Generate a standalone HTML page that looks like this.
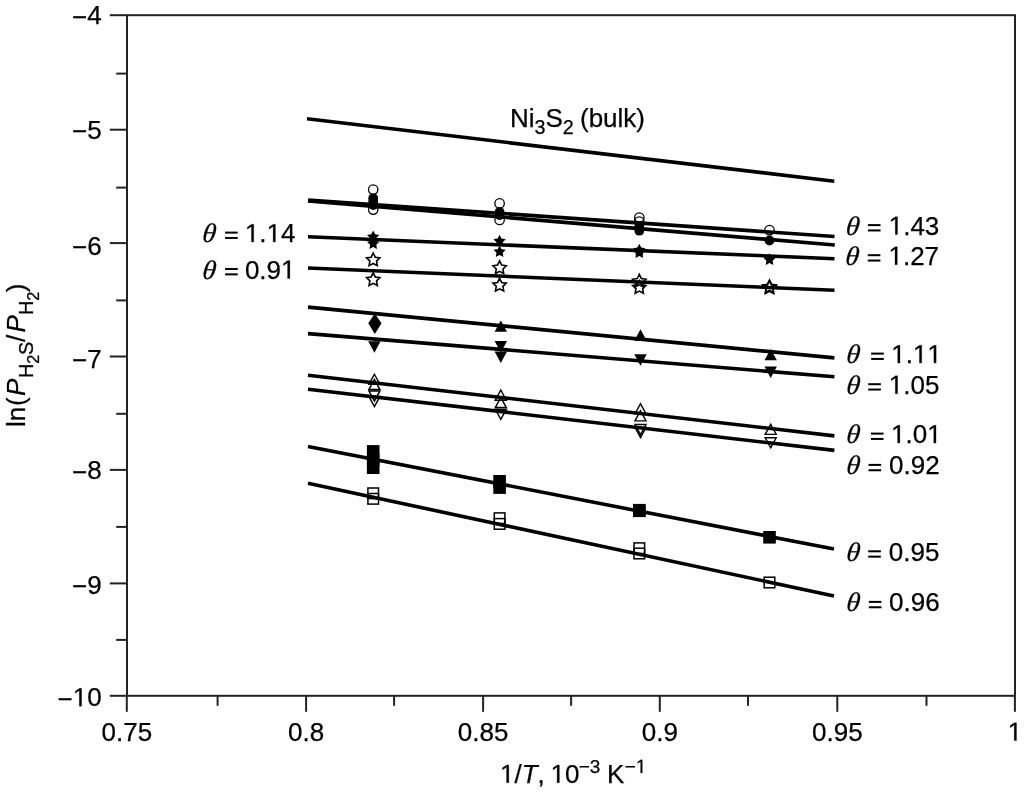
<!DOCTYPE html>
<html><head><meta charset="utf-8"><style>
html,body{margin:0;padding:0;background:#fff;}
svg{display:block;will-change:transform;}
.t{font-family:"Liberation Sans",sans-serif;font-kerning:none;font-size:26px;fill:#000;stroke:#000;stroke-width:0.25px;}
.one{fill-opacity:0;stroke-opacity:0;}
.th{font-family:"Liberation Serif",serif;font-style:italic;}
</style></head><body>
<svg width="1024" height="792" viewBox="0 0 1024 792">
<rect width="1024" height="792" fill="#fff"/>
<rect x="127.0" y="15.2" width="888.0" height="680.5999999999999" fill="none" stroke="#222" stroke-width="2"/>
<line x1="109.8" y1="15.2" x2="127.0" y2="15.2" stroke="#222" stroke-width="2"/>
<line x1="116.2" y1="73.6" x2="127.0" y2="73.6" stroke="#222" stroke-width="2"/>
<line x1="109.8" y1="129.7" x2="127.0" y2="129.7" stroke="#222" stroke-width="2"/>
<line x1="116.2" y1="187.6" x2="127.0" y2="187.6" stroke="#222" stroke-width="2"/>
<line x1="109.8" y1="243.1" x2="127.0" y2="243.1" stroke="#222" stroke-width="2"/>
<line x1="116.2" y1="300.4" x2="127.0" y2="300.4" stroke="#222" stroke-width="2"/>
<line x1="109.8" y1="356.5" x2="127.0" y2="356.5" stroke="#222" stroke-width="2"/>
<line x1="116.2" y1="413.8" x2="127.0" y2="413.8" stroke="#222" stroke-width="2"/>
<line x1="109.8" y1="469.9" x2="127.0" y2="469.9" stroke="#222" stroke-width="2"/>
<line x1="116.2" y1="526.9" x2="127.0" y2="526.9" stroke="#222" stroke-width="2"/>
<line x1="109.8" y1="583.4" x2="127.0" y2="583.4" stroke="#222" stroke-width="2"/>
<line x1="116.2" y1="639.9" x2="127.0" y2="639.9" stroke="#222" stroke-width="2"/>
<line x1="109.8" y1="695.8" x2="127.0" y2="695.8" stroke="#222" stroke-width="2"/>
<line x1="126.8" y1="695.8" x2="126.8" y2="711.8" stroke="#222" stroke-width="2"/>
<line x1="217.6" y1="695.8" x2="217.6" y2="705.8" stroke="#222" stroke-width="2"/>
<line x1="306.1" y1="695.8" x2="306.1" y2="711.8" stroke="#222" stroke-width="2"/>
<line x1="394.1" y1="695.8" x2="394.1" y2="705.8" stroke="#222" stroke-width="2"/>
<line x1="483.1" y1="695.8" x2="483.1" y2="711.8" stroke="#222" stroke-width="2"/>
<line x1="571.1" y1="695.8" x2="571.1" y2="705.8" stroke="#222" stroke-width="2"/>
<line x1="659.8" y1="695.8" x2="659.8" y2="711.8" stroke="#222" stroke-width="2"/>
<line x1="748" y1="695.8" x2="748" y2="705.8" stroke="#222" stroke-width="2"/>
<line x1="837.3" y1="695.8" x2="837.3" y2="711.8" stroke="#222" stroke-width="2"/>
<line x1="926.5" y1="695.8" x2="926.5" y2="705.8" stroke="#222" stroke-width="2"/>
<line x1="1014.9" y1="695.8" x2="1014.9" y2="711.8" stroke="#222" stroke-width="2"/>
<text x="101.7" y="24.3" text-anchor="end" class="t"><tspan dy="1.3">−</tspan><tspan dy="-1.3">4</tspan></text>
<text x="101.7" y="138.5" text-anchor="end" class="t"><tspan dy="1.3">−</tspan><tspan dy="-1.3">5</tspan></text>
<text x="101.7" y="254.6" text-anchor="end" class="t"><tspan dy="1.3">−</tspan><tspan dy="-1.3">6</tspan></text>
<text x="101.7" y="367.6" text-anchor="end" class="t"><tspan dy="1.3">−</tspan><tspan dy="-1.3">7</tspan></text>
<text x="101.7" y="479.3" text-anchor="end" class="t"><tspan dy="1.3">−</tspan><tspan dy="-1.3">8</tspan></text>
<text x="101.7" y="593.7" text-anchor="end" class="t"><tspan dy="1.3">−</tspan><tspan dy="-1.3">9</tspan></text>
<text x="101.7" y="706.2" text-anchor="end" class="t"><tspan dy="1.3">−</tspan><tspan dy="-1.3"><tspan class="one">1</tspan>0</tspan></text>
<text x="126.8" y="740.6" text-anchor="middle" class="t">0.75</text>
<text x="306.1" y="740.6" text-anchor="middle" class="t">0.8</text>
<text x="483.1" y="740.6" text-anchor="middle" class="t">0.85</text>
<text x="659.8" y="740.6" text-anchor="middle" class="t">0.9</text>
<text x="837.3" y="740.6" text-anchor="middle" class="t">0.95</text>
<text x="1014.9" y="740.6" text-anchor="middle" class="t"><tspan class="one">1</tspan></text>
<line x1="307" y1="118.75" x2="834.3" y2="181.25" stroke="#000" stroke-width="3.6"/>
<line x1="308" y1="200.1" x2="834.5" y2="236.5" stroke="#000" stroke-width="3.6"/>
<line x1="308" y1="200.9" x2="834.8" y2="245.0" stroke="#000" stroke-width="3.6"/>
<line x1="308" y1="236.8" x2="834.5" y2="258.7" stroke="#000" stroke-width="3.6"/>
<line x1="308" y1="268.0" x2="834.5" y2="290.3" stroke="#000" stroke-width="3.6"/>
<line x1="308" y1="307.1" x2="834.4" y2="357.9" stroke="#000" stroke-width="3.6"/>
<line x1="308" y1="333.6" x2="834.4" y2="376.8" stroke="#000" stroke-width="3.6"/>
<line x1="308" y1="375.2" x2="834.4" y2="435.9" stroke="#000" stroke-width="3.6"/>
<line x1="308" y1="389.2" x2="834.4" y2="450.4" stroke="#000" stroke-width="3.6"/>
<line x1="308" y1="446.5" x2="834" y2="549.1" stroke="#000" stroke-width="3.6"/>
<line x1="308" y1="483.3" x2="834" y2="596.0" stroke="#000" stroke-width="3.6"/>
<circle cx="373.2" cy="189.6" r="4.7" fill="none" stroke="#000" stroke-width="1.3"/>
<circle cx="373.2" cy="209.6" r="4.7" fill="none" stroke="#000" stroke-width="1.3"/>
<circle cx="373.2" cy="198.3" r="4.9" fill="#000"/>
<circle cx="373.2" cy="201.8" r="4.9" fill="#000"/>
<circle cx="373.2" cy="205.0" r="4.9" fill="#000"/>
<polygon points="373.20,230.45 375.11,234.32 379.38,234.94 376.29,237.95 377.02,242.21 373.20,240.20 369.38,242.21 370.11,237.95 367.02,234.94 371.29,234.32" fill="#000"/>
<polygon points="373.20,237.15 375.11,241.02 379.38,241.64 376.29,244.65 377.02,248.91 373.20,246.90 369.38,248.91 370.11,244.65 367.02,241.64 371.29,241.02" fill="#000"/>
<polygon points="373.20,253.00 375.26,257.17 379.86,257.84 376.53,261.08 377.31,265.66 373.20,263.50 369.09,265.66 369.87,261.08 366.54,257.84 371.14,257.17" fill="none" stroke="#000" stroke-width="1.6" stroke-linejoin="miter"/>
<polygon points="373.20,272.80 375.26,276.97 379.86,277.64 376.53,280.88 377.31,285.46 373.20,283.30 369.09,285.46 369.87,280.88 366.54,277.64 371.14,276.97" fill="none" stroke="#000" stroke-width="1.6" stroke-linejoin="miter"/>
<polygon points="374.8,313.6 381.5,323.3 374.8,334.0 368.3,323.3" fill="#000"/>
<polygon points="374.40,352.70 380.60,341.30 368.20,341.30" fill="#000"/>
<polygon points="374.40,373.60 380.60,385.00 368.20,385.00" fill="none" stroke="#000" stroke-width="1.6" transform="translate(374.4 379.3) scale(0.89) translate(-374.4 -379.3)"/>
<polygon points="374.40,378.80 380.60,390.20 368.20,390.20" fill="none" stroke="#000" stroke-width="1.6" transform="translate(374.4 384.5) scale(0.89) translate(-374.4 -384.5)"/>
<polygon points="374.40,401.70 380.60,390.30 368.20,390.30" fill="none" stroke="#000" stroke-width="1.6" transform="translate(374.4 396.0) scale(0.89) translate(-374.4 -396.0)"/>
<polygon points="374.40,407.20 380.60,395.80 368.20,395.80" fill="none" stroke="#000" stroke-width="1.6" transform="translate(374.4 401.5) scale(0.89) translate(-374.4 -401.5)"/>
<rect x="366.90" y="445.10" width="12.6" height="12.6" fill="#000"/>
<rect x="366.90" y="453.20" width="12.6" height="12.6" fill="#000"/>
<rect x="366.90" y="461.40" width="12.6" height="12.6" fill="#000"/>
<rect x="367.90" y="488.00" width="10.6" height="10.6" fill="none" stroke="#000" stroke-width="1.5"/>
<rect x="367.90" y="493.50" width="10.6" height="10.6" fill="none" stroke="#000" stroke-width="1.5"/>
<circle cx="499.6" cy="203.4" r="4.7" fill="none" stroke="#000" stroke-width="1.3"/>
<circle cx="499.6" cy="219.9" r="4.7" fill="none" stroke="#000" stroke-width="1.3"/>
<circle cx="499.6" cy="212.0" r="4.9" fill="#000"/>
<circle cx="499.6" cy="215.0" r="4.9" fill="#000"/>
<polygon points="499.60,234.75 501.51,238.62 505.78,239.24 502.69,242.25 503.42,246.51 499.60,244.50 495.78,246.51 496.51,242.25 493.42,239.24 497.69,238.62" fill="#000"/>
<polygon points="499.60,245.35 501.51,249.22 505.78,249.84 502.69,252.85 503.42,257.11 499.60,255.10 495.78,257.11 496.51,252.85 493.42,249.84 497.69,249.22" fill="#000"/>
<polygon points="499.60,260.90 501.66,265.07 506.26,265.74 502.93,268.98 503.71,273.56 499.60,271.40 495.49,273.56 496.27,268.98 492.94,265.74 497.54,265.07" fill="none" stroke="#000" stroke-width="1.6" stroke-linejoin="miter"/>
<polygon points="499.60,278.30 501.66,282.47 506.26,283.14 502.93,286.38 503.71,290.96 499.60,288.80 495.49,290.96 496.27,286.38 492.94,283.14 497.54,282.47" fill="none" stroke="#000" stroke-width="1.6" stroke-linejoin="miter"/>
<polygon points="500.80,320.40 507.00,331.80 494.60,331.80" fill="#000"/>
<polygon points="500.80,352.40 507.00,341.00 494.60,341.00" fill="#000"/>
<polygon points="500.80,362.90 507.00,351.50 494.60,351.50" fill="#000"/>
<polygon points="500.80,389.40 507.00,400.80 494.60,400.80" fill="none" stroke="#000" stroke-width="1.6" transform="translate(500.8 395.1) scale(0.89) translate(-500.8 -395.1)"/>
<polygon points="500.80,396.80 507.00,408.20 494.60,408.20" fill="none" stroke="#000" stroke-width="1.6" transform="translate(500.8 402.5) scale(0.89) translate(-500.8 -402.5)"/>
<polygon points="500.80,420.00 507.00,408.60 494.60,408.60" fill="none" stroke="#000" stroke-width="1.6" transform="translate(500.8 414.3) scale(0.89) translate(-500.8 -414.3)"/>
<rect x="493.30" y="475.00" width="12.6" height="12.6" fill="#000"/>
<rect x="493.30" y="481.30" width="12.6" height="12.6" fill="#000"/>
<rect x="494.30" y="512.90" width="10.6" height="10.6" fill="none" stroke="#000" stroke-width="1.5"/>
<rect x="494.30" y="518.60" width="10.6" height="10.6" fill="none" stroke="#000" stroke-width="1.5"/>
<circle cx="639.3" cy="217.5" r="4.7" fill="none" stroke="#000" stroke-width="1.3"/>
<circle cx="639.3" cy="221.5" r="4.7" fill="none" stroke="#000" stroke-width="1.3"/>
<circle cx="639.3" cy="226.5" r="4.9" fill="#000"/>
<circle cx="639.3" cy="230.7" r="4.9" fill="#000"/>
<polygon points="639.30,243.75 641.21,247.62 645.48,248.24 642.39,251.25 643.12,255.51 639.30,253.50 635.48,255.51 636.21,251.25 633.12,248.24 637.39,247.62" fill="#000"/>
<polygon points="639.30,246.35 641.21,250.22 645.48,250.84 642.39,253.85 643.12,258.11 639.30,256.10 635.48,258.11 636.21,253.85 633.12,250.84 637.39,250.22" fill="#000"/>
<polygon points="639.30,274.40 641.36,278.57 645.96,279.24 642.63,282.48 643.41,287.06 639.30,284.90 635.19,287.06 635.97,282.48 632.64,279.24 637.24,278.57" fill="none" stroke="#000" stroke-width="1.6" stroke-linejoin="miter"/>
<polygon points="639.30,280.60 641.36,284.77 645.96,285.44 642.63,288.68 643.41,293.26 639.30,291.10 635.19,293.26 635.97,288.68 632.64,285.44 637.24,284.77" fill="none" stroke="#000" stroke-width="1.6" stroke-linejoin="miter"/>
<polygon points="640.50,329.30 646.70,340.70 634.30,340.70" fill="#000"/>
<polygon points="640.50,365.70 646.70,354.30 634.30,354.30" fill="#000"/>
<polygon points="640.50,403.10 646.70,414.50 634.30,414.50" fill="none" stroke="#000" stroke-width="1.6" transform="translate(640.5 408.8) scale(0.89) translate(-640.5 -408.8)"/>
<polygon points="640.50,410.10 646.70,421.50 634.30,421.50" fill="none" stroke="#000" stroke-width="1.6" transform="translate(640.5 415.8) scale(0.89) translate(-640.5 -415.8)"/>
<polygon points="640.50,435.30 646.70,423.90 634.30,423.90" fill="none" stroke="#000" stroke-width="1.6" transform="translate(640.5 429.6) scale(0.89) translate(-640.5 -429.6)"/>
<polygon points="640.50,438.20 646.70,426.80 634.30,426.80" fill="none" stroke="#000" stroke-width="1.6" transform="translate(640.5 432.5) scale(0.89) translate(-640.5 -432.5)"/>
<rect x="633.00" y="503.90" width="12.6" height="12.6" fill="#000"/>
<rect x="633.00" y="504.50" width="12.6" height="12.6" fill="#000"/>
<rect x="634.00" y="542.90" width="10.6" height="10.6" fill="none" stroke="#000" stroke-width="1.5"/>
<rect x="634.00" y="548.20" width="10.6" height="10.6" fill="none" stroke="#000" stroke-width="1.5"/>
<circle cx="769.5" cy="230.1" r="4.7" fill="none" stroke="#000" stroke-width="1.3"/>
<circle cx="769.5" cy="240.5" r="4.9" fill="#000"/>
<polygon points="769.50,253.15 771.41,257.02 775.68,257.64 772.59,260.65 773.32,264.91 769.50,262.90 765.68,264.91 766.41,260.65 763.32,257.64 767.59,257.02" fill="#000"/>
<polygon points="769.50,280.00 771.56,284.17 776.16,284.84 772.83,288.08 773.61,292.66 769.50,290.50 765.39,292.66 766.17,288.08 762.84,284.84 767.44,284.17" fill="none" stroke="#000" stroke-width="1.6" stroke-linejoin="miter"/>
<polygon points="769.50,280.80 771.56,284.97 776.16,285.64 772.83,288.88 773.61,293.46 769.50,291.30 765.39,293.46 766.17,288.88 762.84,285.64 767.44,284.97" fill="none" stroke="#000" stroke-width="1.6" stroke-linejoin="miter"/>
<polygon points="770.70,348.90 776.90,360.30 764.50,360.30" fill="#000"/>
<polygon points="770.70,378.00 776.90,366.60 764.50,366.60" fill="#000"/>
<polygon points="770.70,423.60 776.90,435.00 764.50,435.00" fill="none" stroke="#000" stroke-width="1.6" transform="translate(770.7 429.3) scale(0.89) translate(-770.7 -429.3)"/>
<polygon points="770.70,448.50 776.90,437.10 764.50,437.10" fill="none" stroke="#000" stroke-width="1.6" transform="translate(770.7 442.8) scale(0.89) translate(-770.7 -442.8)"/>
<rect x="763.20" y="531.00" width="12.6" height="12.6" fill="#000"/>
<rect x="764.20" y="577.20" width="10.6" height="10.6" fill="none" stroke="#000" stroke-width="1.5"/>
<text transform="translate(845.2 234.6) skewX(-6) scale(1.07 1.03)" class="t th" stroke="#000" stroke-width="0.35">θ</text>
<rect x="867.92" y="224.10" width="12.63" height="2.0" fill="#000"/><rect x="867.92" y="229.45" width="12.63" height="2.0" fill="#000"/>
<text x="888.7125364431487" y="234.6" class="t"><tspan class="one">1</tspan>.43</text>
<text transform="translate(844.7 264.7) skewX(-6) scale(1.07 1.03)" class="t th" stroke="#000" stroke-width="0.35">θ</text>
<rect x="867.77" y="254.20" width="12.63" height="2.0" fill="#000"/><rect x="867.77" y="259.55" width="12.63" height="2.0" fill="#000"/>
<text x="888.4624708624709" y="264.7" class="t"><tspan class="one">1</tspan>.27</text>
<text transform="translate(845.8000000000001 363.1) skewX(-6) scale(1.07 1.03)" class="t th" stroke="#000" stroke-width="0.35">θ</text>
<rect x="871.17" y="352.60" width="12.63" height="2.0" fill="#000"/><rect x="871.17" y="357.95" width="12.63" height="2.0" fill="#000"/>
<text x="891.1625364431487" y="363.1" class="t"><tspan class="one">1</tspan>.<tspan class="one">1</tspan><tspan class="one">1</tspan></text>
<text transform="translate(845.8000000000001 393.7) skewX(-6) scale(1.07 1.03)" class="t th" stroke="#000" stroke-width="0.35">θ</text>
<rect x="868.22" y="383.20" width="12.63" height="2.0" fill="#000"/><rect x="868.22" y="388.55" width="12.63" height="2.0" fill="#000"/>
<text x="888.7624708624709" y="393.7" class="t"><tspan class="one">1</tspan>.05</text>
<text transform="translate(845.8000000000001 443.1) skewX(-6) scale(1.07 1.03)" class="t th" stroke="#000" stroke-width="0.35">θ</text>
<rect x="870.92" y="432.60" width="12.63" height="2.0" fill="#000"/><rect x="870.92" y="437.95" width="12.63" height="2.0" fill="#000"/>
<text x="891.0348530293942" y="443.1" class="t"><tspan class="one">1</tspan>.0<tspan class="one">1</tspan></text>
<text transform="translate(845.8000000000001 474.4) skewX(-6) scale(1.07 1.03)" class="t th" stroke="#000" stroke-width="0.35">θ</text>
<rect x="868.52" y="463.90" width="12.63" height="2.0" fill="#000"/><rect x="868.52" y="469.25" width="12.63" height="2.0" fill="#000"/>
<text x="889.1124708624709" y="474.4" class="t">0.92</text>
<text transform="translate(845.8000000000001 560.8) skewX(-6) scale(1.07 1.03)" class="t th" stroke="#000" stroke-width="0.35">θ</text>
<rect x="868.22" y="550.30" width="12.63" height="2.0" fill="#000"/><rect x="868.22" y="555.65" width="12.63" height="2.0" fill="#000"/>
<text x="888.7848530293941" y="560.8" class="t">0.95</text>
<text transform="translate(845.8000000000001 611.4) skewX(-6) scale(1.07 1.03)" class="t th" stroke="#000" stroke-width="0.35">θ</text>
<rect x="868.82" y="600.90" width="12.63" height="2.0" fill="#000"/><rect x="868.82" y="606.25" width="12.63" height="2.0" fill="#000"/>
<text x="889.0820668693009" y="611.4" class="t">0.96</text>
<text transform="translate(201.79999999999998 242.1) skewX(-6) scale(1.07 1.03)" class="t th" stroke="#000" stroke-width="0.35">θ</text>
<rect x="225.07" y="231.60" width="12.63" height="2.0" fill="#000"/><rect x="225.07" y="236.95" width="12.63" height="2.0" fill="#000"/>
<text x="244.8848530293941" y="242.1" class="t"><tspan class="one">1</tspan>.<tspan class="one">1</tspan>4</text>
<text transform="translate(201.79999999999998 278.5) skewX(-6) scale(1.07 1.03)" class="t th" stroke="#000" stroke-width="0.35">θ</text>
<rect x="225.07" y="268.00" width="12.63" height="2.0" fill="#000"/><rect x="225.07" y="273.35" width="12.63" height="2.0" fill="#000"/>
<text x="244.8848530293941" y="278.5" class="t">0.9<tspan class="one">1</tspan></text>
<text y="127" class="t"><tspan x="510">Ni</tspan><tspan font-size="19.7" dy="6.7">3</tspan><tspan dy="-6.7">S</tspan><tspan font-size="19.7" dy="6.7">2</tspan><tspan x="580" dy="-6.7">(bulk)</tspan></text>
<text x="500" y="782.8" class="t"><tspan class="one">1</tspan>/<tspan font-style="italic">T</tspan>, <tspan dx="-1.5"><tspan class="one">1</tspan>0</tspan><tspan font-size="19" dy="-9.9" dx="-0.8">−3</tspan><tspan dy="9.9" dx="-0.6"> K</tspan><tspan font-size="19" dy="-9.9" dx="0.4">−<tspan class="one">1</tspan></tspan></text>
<text transform="translate(25.3 428) rotate(-90)" class="t"><tspan x="1.0" y="0">ln</tspan><tspan x="22.0">(</tspan><tspan x="32.0" font-style="italic">P</tspan><tspan x="50.1" y="7.5" font-size="20">H</tspan><tspan x="64.2" y="14" font-size="16.3">2</tspan><tspan x="73.0" y="7.5" font-size="20">S</tspan><tspan x="86.0" y="0">/</tspan><tspan x="95.4" font-style="italic">P</tspan><tspan x="113.0" y="7.5" font-size="20">H</tspan><tspan x="127.2" y="14" font-size="16.3">2</tspan><tspan x="135.7" y="0">)</tspan></text>
<g fill="#000" stroke="#000" stroke-width="0.25"><path transform="translate(72.76 706.20) scale(0.01270 -0.01270)" vector-effect="non-scaling-stroke" d="M515 0L515 1237L197 1010L197 1180L530 1409L696 1409L696 0Z"/><path transform="translate(1007.67 740.60) scale(0.01270 -0.01270)" vector-effect="non-scaling-stroke" d="M515 0L515 1237L197 1010L197 1180L530 1409L696 1409L696 0Z"/><path transform="translate(888.71 234.60) scale(0.01270 -0.01270)" vector-effect="non-scaling-stroke" d="M515 0L515 1237L197 1010L197 1180L530 1409L696 1409L696 0Z"/><path transform="translate(888.46 264.70) scale(0.01270 -0.01270)" vector-effect="non-scaling-stroke" d="M515 0L515 1237L197 1010L197 1180L530 1409L696 1409L696 0Z"/><path transform="translate(891.16 363.10) scale(0.01270 -0.01270)" vector-effect="non-scaling-stroke" d="M515 0L515 1237L197 1010L197 1180L530 1409L696 1409L696 0Z"/><path transform="translate(912.87 363.10) scale(0.01270 -0.01270)" vector-effect="non-scaling-stroke" d="M515 0L515 1237L197 1010L197 1180L530 1409L696 1409L696 0Z"/><path transform="translate(927.33 363.10) scale(0.01270 -0.01270)" vector-effect="non-scaling-stroke" d="M515 0L515 1237L197 1010L197 1180L530 1409L696 1409L696 0Z"/><path transform="translate(888.76 393.70) scale(0.01270 -0.01270)" vector-effect="non-scaling-stroke" d="M515 0L515 1237L197 1010L197 1180L530 1409L696 1409L696 0Z"/><path transform="translate(891.03 443.10) scale(0.01270 -0.01270)" vector-effect="non-scaling-stroke" d="M515 0L515 1237L197 1010L197 1180L530 1409L696 1409L696 0Z"/><path transform="translate(927.19 443.10) scale(0.01270 -0.01270)" vector-effect="non-scaling-stroke" d="M515 0L515 1237L197 1010L197 1180L530 1409L696 1409L696 0Z"/><path transform="translate(244.88 242.10) scale(0.01270 -0.01270)" vector-effect="non-scaling-stroke" d="M515 0L515 1237L197 1010L197 1180L530 1409L696 1409L696 0Z"/><path transform="translate(266.59 242.10) scale(0.01270 -0.01270)" vector-effect="non-scaling-stroke" d="M515 0L515 1237L197 1010L197 1180L530 1409L696 1409L696 0Z"/><path transform="translate(281.04 278.50) scale(0.01270 -0.01270)" vector-effect="non-scaling-stroke" d="M515 0L515 1237L197 1010L197 1180L530 1409L696 1409L696 0Z"/><path transform="translate(500.00 782.80) scale(0.01270 -0.01270)" vector-effect="non-scaling-stroke" d="M515 0L515 1237L197 1010L197 1180L530 1409L696 1409L696 0Z"/><path transform="translate(550.55 782.80) scale(0.01270 -0.01270)" vector-effect="non-scaling-stroke" d="M515 0L515 1237L197 1010L197 1180L530 1409L696 1409L696 0Z"/><path transform="translate(635.84 772.90) scale(0.00928 -0.00928)" vector-effect="non-scaling-stroke" d="M515 0L515 1237L197 1010L197 1180L530 1409L696 1409L696 0Z"/></g>
</svg>
</body></html>
